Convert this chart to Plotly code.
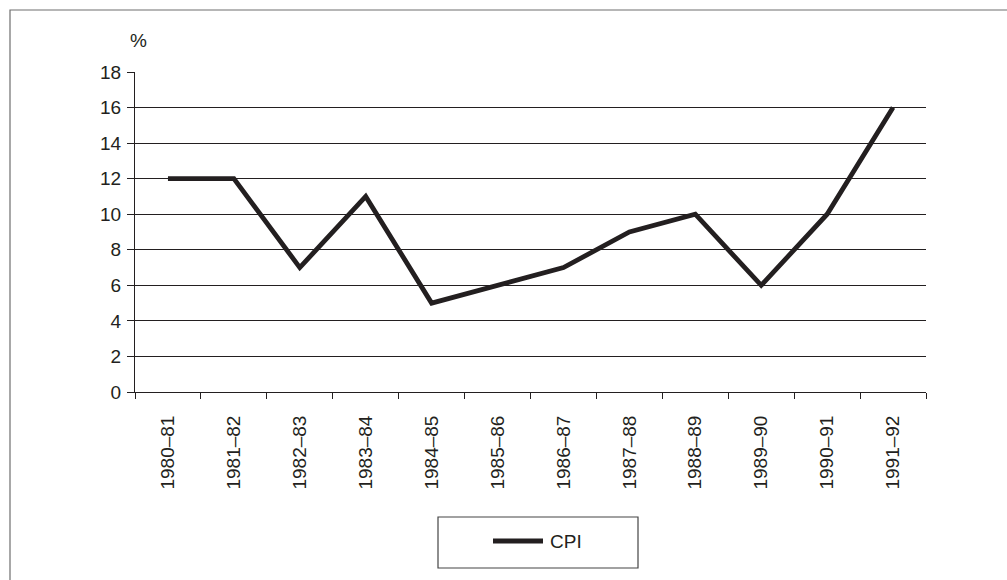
import plotly.graph_objects as go

# Consumer price index, annual % change by financial year
years = ["1980–81", "1981–82", "1982–83", "1983–84", "1984–85", "1985–86",
         "1986–87", "1987–88", "1988–89", "1989–90", "1990–91", "1991–92"]
cpi = [12, 12, 7, 11, 5, 6, 7, 9, 10, 6, 10, 16]
y_ticks = [0, 2, 4, 6, 8, 10, 12, 14, 16, 18]
series_name = "CPI"

W, H = 1007, 580
L, R, T, B = 135, 926, 72, 392  # plot area in pixels
INK = "#231f20"
FONT = "Liberation Sans, Arial, Helvetica, sans-serif"


def px(x):
    return (x - L) / (R - L)


def py(y):
    return (B - y) / (B - T)


fig = go.Figure()
fig.add_trace(go.Scatter(
    x=years, y=cpi, mode="lines", name=series_name,
    line=dict(color=INK, width=4.8), showlegend=False,
))

fig.update_layout(
    width=W, height=H,
    margin=dict(l=L, r=W - R, t=T, b=H - B, pad=0),
    paper_bgcolor="white", plot_bgcolor="white",
    font=dict(family=FONT, size=19, color=INK),
    xaxis=dict(
        type="category", range=[-0.5, len(years) - 0.5],
        tickson="boundaries", ticks="outside", ticklen=6, tickwidth=1,
        tickcolor=INK, tickangle=-90, showgrid=False,
        showline=True, linecolor=INK, linewidth=1,
        tickfont=dict(size=19, color=INK), ticklabelstandoff=15,
    ),
    yaxis=dict(
        range=[0, 18], tickvals=y_ticks, ticks="outside", ticklen=7,
        tickwidth=1, tickcolor=INK, showline=True, linecolor=INK, linewidth=1,
        showgrid=True, gridcolor=INK, gridwidth=1, zeroline=False,
        tickfont=dict(size=19, color=INK), ticklabelstandoff=2,
    ),
    shapes=[
        # outer frame
        dict(type="rect", xref="paper", yref="paper",
             x0=px(10), x1=px(1020), y0=py(600), y1=py(10),
             line=dict(color="#6e6e6e", width=1.2), layer="below"),
        # legend frame
        dict(type="rect", xref="paper", yref="paper",
             x0=px(438), x1=px(638), y0=py(568), y1=py(517),
             line=dict(color="#444444", width=1.2), fillcolor="white"),
        # legend line sample
        dict(type="line", xref="paper", yref="paper",
             x0=px(493), x1=px(543), y0=py(541), y1=py(541),
             line=dict(color=INK, width=5)),
    ],
    annotations=[
        dict(text="%", xref="paper", yref="paper", x=px(138), y=py(41),
             xanchor="center", yanchor="middle", showarrow=False,
             font=dict(size=19, color=INK)),
        dict(text=series_name, xref="paper", yref="paper", x=px(548), y=py(541),
             xanchor="left", yanchor="middle", showarrow=False,
             font=dict(size=19, color=INK)),
    ],
)

fig.write_html("out.html")
